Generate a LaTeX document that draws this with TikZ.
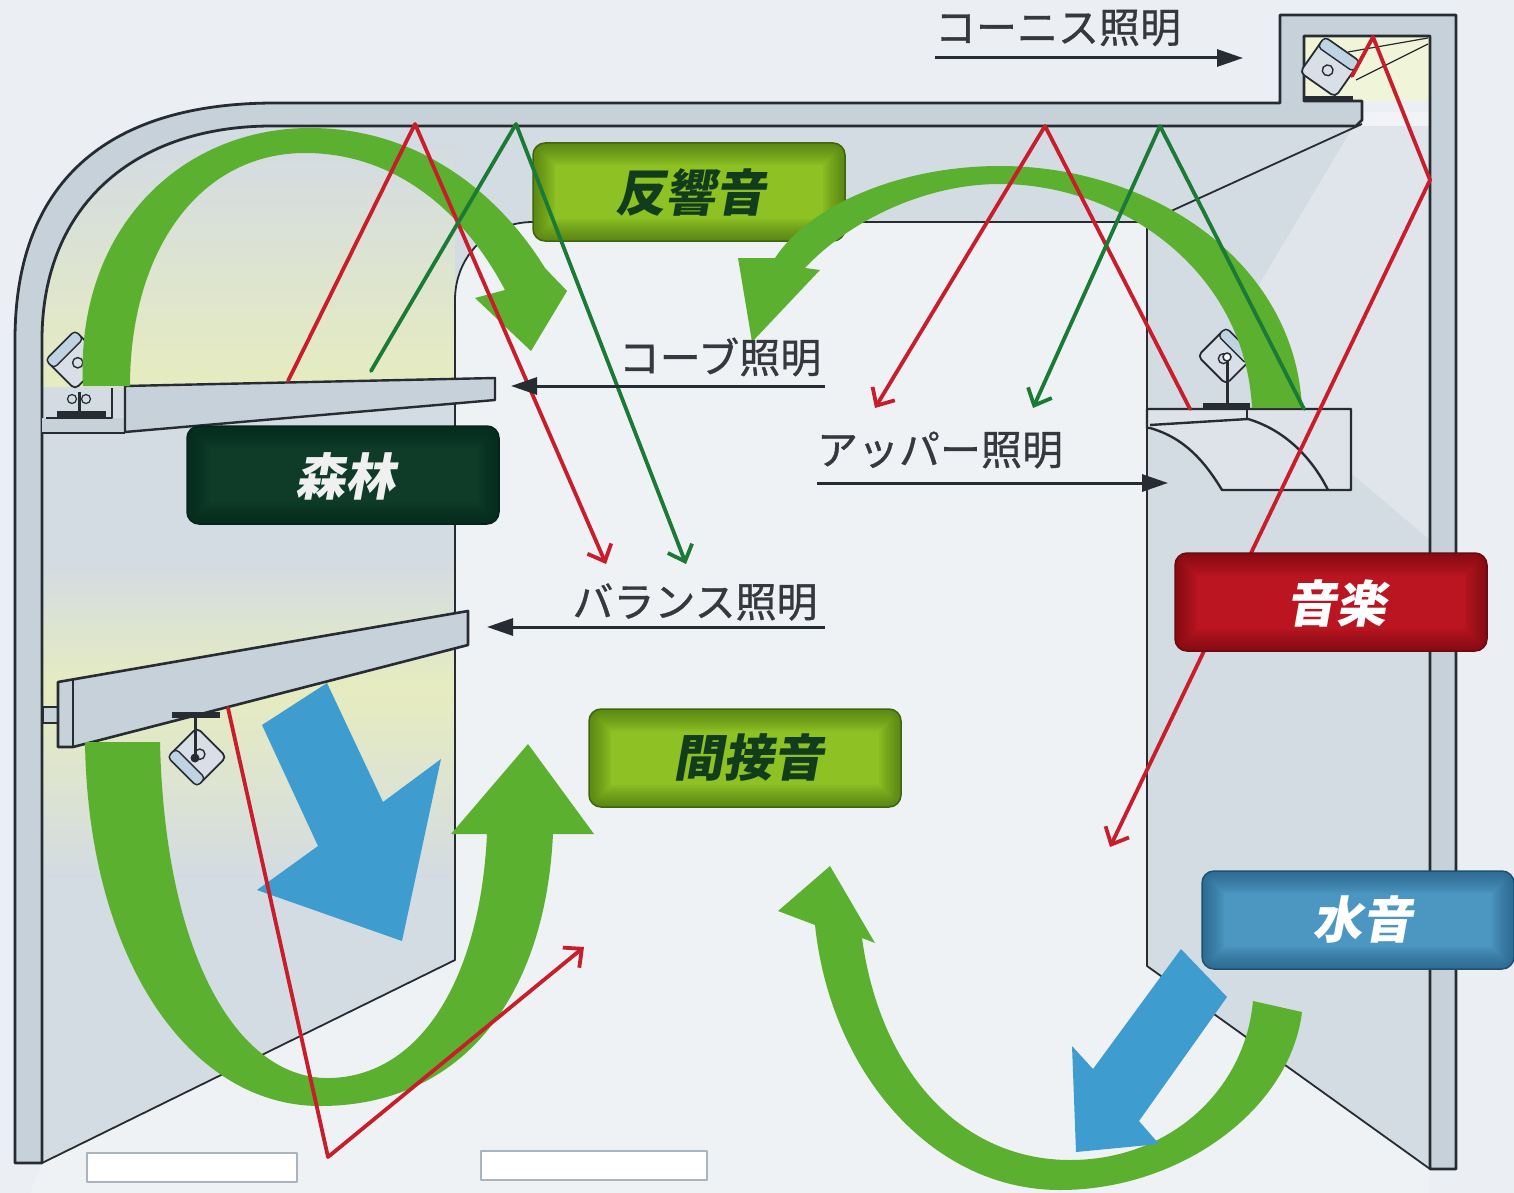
\documentclass[tikz,border=0pt]{standalone}
\usepackage{fontspec}
\newfontfamily\jp[FakeBold=0.8]{Noto Sans CJK JP}
\newfontfamily\jpit[FakeSlant=0.18]{Noto Sans CJK JP}
\usetikzlibrary{arrows.meta}

\definecolor{bg}{HTML}{EBEFF3}
\definecolor{wallside}{HTML}{D3DBE3}
\definecolor{wallback}{HTML}{EFF2F5}
\definecolor{framefill}{HTML}{C7D1DA}
\definecolor{ink}{HTML}{272C32}
\definecolor{band}{HTML}{5CB02F}
\definecolor{bluearrow}{HTML}{3F9CCF}
\definecolor{rayred}{HTML}{C81E2C}
\definecolor{raygreen}{HTML}{1B7A36}
\definecolor{glow}{HTML}{E6ECBF}
\definecolor{labeltext}{HTML}{35383C}
\definecolor{lampfill}{HTML}{D8DFE6}
\definecolor{lensfill}{HTML}{BFD3E2}
\definecolor{olive}{HTML}{8EC124}
\definecolor{olivedark}{HTML}{3C650C}
\definecolor{olivetext}{HTML}{123D1C}
\definecolor{forest}{HTML}{0E3C29}
\definecolor{forestdark}{HTML}{06241A}
\definecolor{music}{HTML}{BA1520}
\definecolor{musicdark}{HTML}{690910}
\definecolor{water}{HTML}{4C96C2}
\definecolor{waterdark}{HTML}{1D5275}
\definecolor{padline}{HTML}{A9B4BF}

\begin{document}
\begin{tikzpicture}[x=1pt,y=-1pt,line join=round,
  ray/.style={line width=3.8pt, line cap=round,
    -{Straight Barb[length=14pt,width=26pt,line width=3.8pt]}},
  lblarrow/.style={draw=ink, line width=3pt, -{Triangle[length=26pt,width=17pt]}},
  lbl/.style={font=\jp\fontsize{41pt}{41pt}\selectfont, text=labeltext, inner sep=0pt},
  sbox/.style 2 args={shape=rectangle, rounded corners=12pt, fill=#1,
    draw=#2, line width=1.5pt, inner sep=0pt,
    minimum width=312pt, minimum height=98pt,
    path picture={
      \foreach \w in {44,40,...,4}{
        \draw[#2, line width=\w pt, opacity=0.07, rounded corners=12pt]
          (path picture bounding box.south west) rectangle
          (path picture bounding box.north east);}}},
  boxtext/.style={font=\jpit\bfseries\fontsize{50pt}{50pt}\selectfont},
  pad/.style={draw=padline, fill=white, line width=2pt, inner sep=0pt},
  lamp/.pic={
    \filldraw[fill=lampfill, draw=ink, line width=1.8pt, rounded corners=5pt]
      (-16,-16) rectangle (16,16);
    \filldraw[fill=lensfill, draw=ink, line width=1.4pt, rounded corners=4pt]
      (-16,-16) rectangle (16,-7);
    \draw[ink, line width=1.4pt] (0,3) circle (4pt);
  }]

\useasboundingbox (0,0) rectangle (1514,1193);
\fill[bg] (0,0) rectangle (1514,1193);

% ---------- room interior ----------
\begin{scope}
  \clip (42,1168) -- (42,340) .. controls (42,205) and (135,126) .. (272,126)
    -- (1430,126) -- (1430,1168) -- cycle;
  \fill[wallside] (42,126) rectangle (1430,1168);
  % light thrown by the cove and the valance onto the left wall
  \shade[top color=wallside, bottom color=glow] (42,140) rectangle (455,386);
  \shade[top color=wallside, bottom color=glow] (42,560) rectangle (455,690);
  \shade[top color=glow, bottom color=wallside] (42,690) rectangle (455,880);
\end{scope}
% back wall and floor
\fill[wallback] (30,1193) -- (42,1163) -- (455,960) -- (455,300)
  .. controls (455,255) and (490,222) .. (533,222) -- (1147,222)
  -- (1147,966) -- (1430,1169) -- (1430,1193) -- cycle;
% cornice wash on the right wall
\fill[white, opacity=0.3] (1362,112) -- (1430,112) -- (1430,540)
  -- (1300,430) -- (1250,300) -- cycle;
\draw[ink, line width=1.8pt] (42,1163) -- (455,960) -- (455,300)
  .. controls (455,255) and (490,222) .. (533,222) -- (1147,222)
  -- (1147,966) -- (1430,1169);
\draw[ink, line width=1.8pt] (1147,222) -- (1362,124);

% cornice pocket
\fill[glow!60!white] (1304,36) rectangle (1430,101);
\draw[ink, line width=1.2pt] (1348,52) -- (1428,38) (1356,80) -- (1428,44);

% ---------- walls and ceiling ----------
\filldraw[fill=framefill, draw=ink, line width=2.8pt]
  (15,1163) -- (15,340) .. controls (15,175) and (115,103) .. (275,103)
  -- (1280,103) -- (1280,15) -- (1456,15) -- (1456,1169) -- (1430,1169)
  -- (1430,36) -- (1304,36) -- (1304,101) -- (1362,101) -- (1362,120)
  -- (1356,126) -- (272,126) .. controls (135,126) and (42,205) .. (42,340)
  -- (42,1163) -- cycle;

% cove shelf with its bracket
\fill[framefill] (42,418) rectangle (125,433);
\filldraw[fill=framefill, draw=ink, line width=2.4pt]
  (125,386) -- (495,378) -- (495,400) -- (125,432) -- cycle;
\draw[ink, line width=2.4pt] (42,433) -- (125,433);
\draw[ink, line width=1.8pt] (112,388) -- (112,418) -- (46,418);

% valance board
\filldraw[fill=framefill, draw=ink, line width=1.4pt] (43,707) rectangle (58,723);
\filldraw[fill=framefill, draw=ink, line width=2.6pt]
  (58,682) -- (468,611) -- (468,645) -- (73,747) -- (58,747) -- cycle;
\draw[ink, line width=2.2pt] (73,679) -- (73,747);

% uplight trough
\filldraw[fill=framefill!60!white, draw=ink, line width=2.4pt]
  (1147,409) -- (1351,409) -- (1351,490) -- (1222,490)
  .. controls (1205,462) and (1185,438) .. (1150,428) -- (1147,428) -- cycle;
\draw[ink, line width=2.4pt] (1150,425) -- (1248,419)
  .. controls (1285,430) and (1312,458) .. (1328,490);
\draw[ink, line width=1.8pt] (1247,409) -- (1247,419);

% ---------- luminaires ----------
% cove
\pic[rotate=45, scale=1.3] at (75,360) {lamp};
\draw[ink, line width=3pt] (79,392) -- (79,412);
\draw[ink, line width=1.2pt] (72,399) circle (4.5pt) (86,399) circle (4.5pt);
\fill[ink] (57,411) rectangle (106,418);
% uplight
\pic[rotate=-45, scale=1.25] at (1226,356) {lamp};
\draw[ink, line width=3pt] (1227,361) -- (1227,404);
\filldraw[fill=white, draw=ink, line width=1.6pt] (1227,357) circle (4pt);
\fill[ink] (1203,403) rectangle (1250,410);
% valance
\fill[ink] (172,712) rectangle (220,718);
\pic[rotate=135, scale=1.3] at (197,757) {lamp};
\draw[ink, line width=3pt] (195,717) -- (195,758);
\fill[ink] (195,758) circle (4.5pt);
% cornice
\pic[rotate=-35, scale=1.35] at (1330,67) {lamp};
\fill[ink] (1303,96) rectangle (1353,102);

% ---------- reverberation box ----------
\node[sbox={olive}{olivedark}] (reverb) at (689,192) {};
\node[boxtext, text=olivetext] (reverbtext) at (690,192) {反響音};

% ---------- sound-path bands ----------
% over the cove
\fill[band] (83,386) .. controls (75,230) and (180,128) .. (310,128)
  .. controls (420,128) and (500,195) .. (545,268) -- (567,291)
  -- (531,351) -- (475,298) -- (505,290)
  .. controls (460,205) and (390,153) .. (305,153)
  .. controls (200,153) and (130,250) .. (130,386) -- cycle;
% over the uplight
\fill[band] (1302,408) .. controls (1295,260) and (1150,166) .. (1000,166)
  .. controls (900,166) and (810,205) .. (775,258) -- (738,258)
  -- (752,342) -- (820,270) -- (805,268)
  .. controls (845,225) and (920,184) .. (1000,184)
  .. controls (1120,184) and (1245,270) .. (1252,408) -- cycle;
% under the valance
\fill[band] (85,742) .. controls (88,960) and (190,1106) .. (320,1106)
  .. controls (460,1106) and (545,1000) .. (553,834) -- (594,834)
  -- (528,744) -- (451,834) -- (487,834)
  .. controls (480,980) and (420,1076) .. (330,1078)
  .. controls (240,1080) and (165,960) .. (160,742) -- cycle;
% from the water feature
\fill[band] (1302,1012) .. controls (1290,1110) and (1180,1190) .. (1060,1190)
  .. controls (930,1190) and (830,1070) .. (815,925) -- (778,911)
  -- (830,866) -- (875,943) -- (862,938)
  .. controls (880,1070) and (960,1160) .. (1070,1160)
  .. controls (1170,1160) and (1245,1090) .. (1253,1001) -- cycle;

% ---------- direct sound ----------
\fill[bluearrow] (262,725) -- (327,683) -- (383,802) -- (441,759)
  -- (402,941) -- (257,890) -- (318,846) -- cycle;
\fill[bluearrow] (1181,949) -- (1227,997) -- (1139,1121) -- (1159,1144)
  -- (1076,1152) -- (1072,1046) -- (1093,1069) -- cycle;

% ---------- light rays ----------
\coordinate (r1a) at (288,381); \coordinate (r1b) at (415,124); \coordinate (r1c) at (606,564);
\coordinate (g1a) at (371,371); \coordinate (g1b) at (516,124); \coordinate (g1c) at (686,564);
\coordinate (r2a) at (1190,409); \coordinate (r2b) at (1045,126); \coordinate (r2c) at (875,408);
\coordinate (g2a) at (1304,409); \coordinate (g2b) at (1160,126); \coordinate (g2c) at (1033,408);
\coordinate (r4a) at (228,708); \coordinate (r4b) at (328,1157); \coordinate (r4c) at (584,947);
\coordinate (r3a) at (1352,76); \coordinate (r3b) at (1373,37); \coordinate (r3c) at (1430,180);
\coordinate (r3d) at (1110,847);
\draw[ray, rayred] (r1a) -- (r1b) -- (r1c);
\draw[ray, raygreen] (g1a) -- (g1b) -- (g1c);
\draw[ray, rayred] (r2a) -- (r2b) -- (r2c);
\draw[ray, raygreen] (g2a) -- (g2b) -- (g2c);
\draw[ray, rayred] (r4a) -- (r4b) -- (r4c);
\draw[ray, rayred] (r3a) -- (r3b) -- (r3c) -- (r3d);

% ---------- sound sources ----------
\node[sbox={forest}{forestdark}] (forestbox) at (343,475) {};
\node[boxtext, text=white!94!black] (foresttext) at (345,476) {森林};
\node[sbox={olive}{olivedark}] (indirect) at (745,758) {};
\node[boxtext, text=olivetext] (indirecttext) at (748,758) {間接音};
\node[sbox={music}{musicdark}] (musicbox) at (1331,602) {};
\node[boxtext, text=white] (musictext) at (1336,603) {音楽};
\node[sbox={water}{waterdark}] (waterbox) at (1358,920) {};
\node[boxtext, text=white] (watertext) at (1362,920) {水音};

% ---------- lighting labels ----------
\node[lbl] (tcornice) at (1058,28) {コーニス照明};
\node[lbl] (tcove) at (720,357) {コーブ照明};
\node[lbl] (tupper) at (940,450) {アッパー照明};
\node[lbl] (tbalance) at (695,602) {バランス照明};
\coordinate (ac1) at (935,58);  \coordinate (ac2) at (1243,58);
\coordinate (av1) at (825,386); \coordinate (av2) at (511,386);
\coordinate (au1) at (817,483); \coordinate (au2) at (1168,483);
\coordinate (ab1) at (825,627); \coordinate (ab2) at (487,627);
\draw[lblarrow] (ac1) -- (ac2);
\draw[lblarrow] (av1) -- (av2);
\draw[lblarrow] (au1) -- (au2);
\draw[lblarrow] (ab1) -- (ab2);

% ---------- floor plates ----------
\node[pad, minimum width=210pt, minimum height=29pt] (padleft) at (192,1167.5) {};
\node[pad, minimum width=226pt, minimum height=29pt] (padright) at (594,1165.5) {};

\end{tikzpicture}
\end{document}
